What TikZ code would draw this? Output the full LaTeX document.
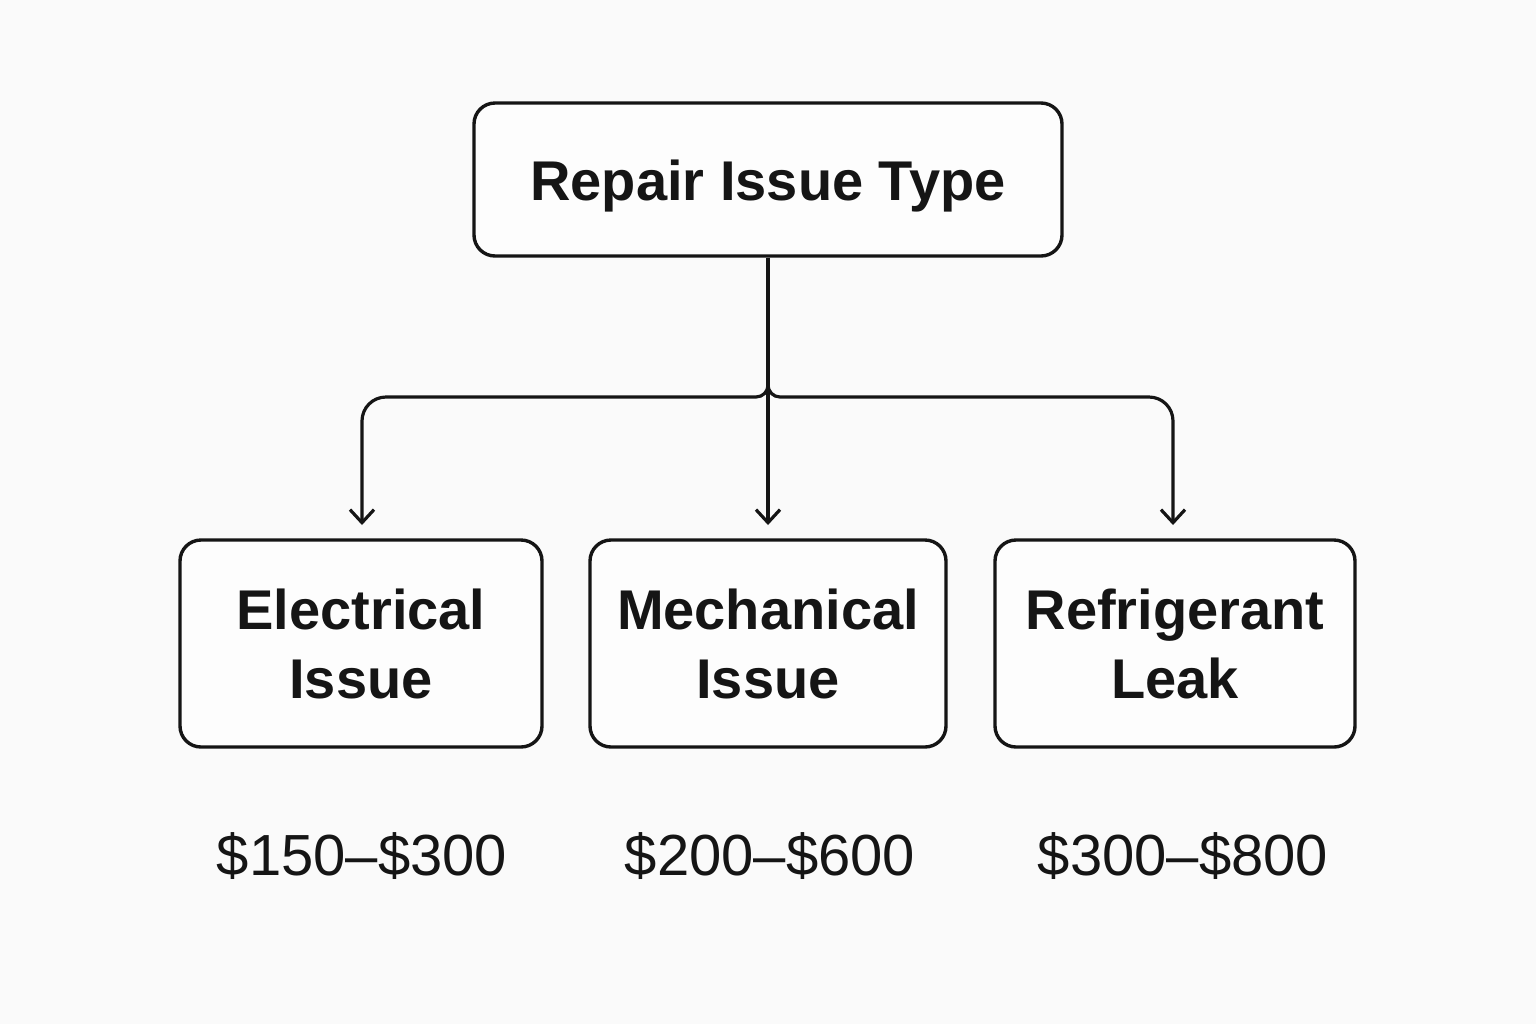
\documentclass[tikz,border=0pt]{standalone}
\usepackage{fontspec}
\setmainfont{Liberation Sans}
\usetikzlibrary{arrows.meta}
\definecolor{bg}{HTML}{FAFAFA}
\definecolor{ink}{HTML}{151515}
\begin{document}
\begin{tikzpicture}[x=0.5pt,y=-0.5pt,
  box/.style={draw=ink, line width=1.7pt, rounded corners=10.5pt, fill=white!60!bg,
    align=center, text=ink, font=\fontsize{28}{34.5}\selectfont\bfseries, inner sep=0pt},
  price/.style={text=ink, font=\fontsize{29}{34}\selectfont, anchor=base, inner sep=0pt},
  conn/.style={draw=ink, line width=1.6pt},
  arr/.style={conn, -{Straight Barb[length=6.5pt,width=12pt,line width=1.6pt]}}]
\fill[bg] (0,0) rectangle (1536,1024);
\useasboundingbox (0,0) rectangle (1536,1024);

\node[box, minimum width=294pt, minimum height=76.5pt, text height=21pt, text depth=0pt] (top) at (768,179.5) {Repair Issue Type};
\node[box, minimum width=181pt, minimum height=103.5pt] (el) at (361,643.5) {Electrical\\Issue};
\node[box, minimum width=178pt, minimum height=103.5pt] (me) at (768,643.5) {Mechanical\\Issue};
\node[box, minimum width=180pt, minimum height=103.5pt] (re) at (1175,643.5) {Refrigerant\\Leak};

\node[price] (p1) at (362,875) {\$150–\$300};
\node[price] (p2) at (770,875) {\$200–\$600};
\node[price] (p3) at (1183,875) {\$300–\$800};

\coordinate (j) at (768,385);
\coordinate (tl) at (362,525);
\coordinate (tm) at (768,525);
\coordinate (tr) at (1173,525);

\draw[conn] (top.south) -- (j);
\draw[arr] (j) to[out=-90,in=0] (756,397) -- (386,397) to[out=180,in=90] (362,421) -- (tl);
\draw[arr] (j) to[out=-90,in=180] (780,397) -- (1149,397) to[out=0,in=90] (1173,421) -- (tr);
\draw[arr] (j) -- (tm);
\end{tikzpicture}
\end{document}
